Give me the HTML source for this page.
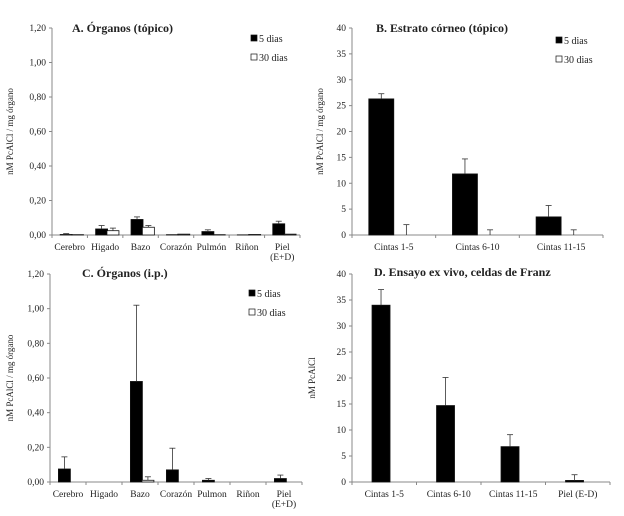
<!DOCTYPE html>
<html><head><meta charset="utf-8"><style>
body{margin:0;background:#fff;width:624px;height:511px;overflow:hidden}
svg, svg text{font-family:"Liberation Serif","DejaVu Serif",serif}
</style></head><body>
<svg id="s" width="624" height="511"></svg>
<script>
const catsOrg = ["Cerebro","Higado","Bazo","Corazón","Pulmón","Riñon","Piel|(E+D)"];
const catsOrgC = ["Cerebro","Higado","Bazo","Corazón","Pulmon","Riñon","Piel|(E+D)"];
const aFive = [0.003,0.035,0.09,0.002,0.02,0.001,0.065];
const aFiveErr = [0.005,0.02,0.015,0,0.01,0,0.015];
const aThirty = [0.002,0.025,0.045,0.005,0.002,0.003,0.005];
const aThirtyErr = [0,0.015,0.01,0,0,0,0];
const cFive = [0.075,0,0.58,0.07,0.01,0,0.02];
const cFiveErr = [0.07,0,0.44,0.125,0.01,0,0.02];
const cThirty = [0,0,0.01,0,0,0,0];
const cThirtyErr = [0,0,0.02,0,0,0,0];
const catsB = ["Cintas 1-5","Cintas 6-10","Cintas 11-15"];
const bFive = [26.3,11.8,3.5];
const bFiveErr = [1,2.9,2.2];
const bThirty = [0,0,0];
const bThirtyErr = [2,1,1];
const catsD = ["Cintas 1-5","Cintas 6-10","Cintas 11-15","Piel (E-D)"];
const dVals = [34,14.7,6.8,0.3];
const dErr = [3,5.4,2.3,1.1];
const ticksOrg = ["0,00","0,20","0,40","0,60","0,80","1,00","1,20"];
const ticksCnt = ["0","5","10","15","20","25","30","35","40"];

const svg=document.getElementById('s');
const NS="http://www.w3.org/2000/svg";
function el(tag,attrs,parent){const e=document.createElementNS(NS,tag);for(const k in attrs)e.setAttribute(k,attrs[k]);(parent||svg).appendChild(e);return e;}
function txt(x,y,s,size,anchor,weight,parent){const t=el('text',{x:x,y:y,'font-size':size,'font-family':'Liberation Serif, serif','text-anchor':anchor||'middle','font-weight':weight||'normal',fill:'#222'},parent);t.textContent=s;return t;}

function panel(o){
  const g=el('g',{});
  
  
  const y=v=>o.bot-(v/o.max)*(o.bot-o.top);
  el('line',{x1:o.x0,y1:o.top,x2:o.x0,y2:o.bot,stroke:'#888','stroke-width':1},g);
  el('line',{x1:o.x0,y1:o.bot,x2:o.x1,y2:o.bot,stroke:'#888','stroke-width':1},g);
  o.ticks.forEach((t,i)=>{const v=o.max*i/(o.ticks.length-1);const yy=y(v);
    el('line',{x1:o.x0-3,y1:yy,x2:o.x0,y2:yy,stroke:'#888'},g);
    const tl=txt(o.x0-6,yy+3,t,9.5,'end','normal',g);
    
    });
  const n=o.cats.length,w=(o.x1-o.x0)/n;
  for(let i=0;i<=n;i++){el('line',{x1:o.x0+i*w,y1:o.bot,x2:o.x0+i*w,y2:o.bot+3,stroke:'#888'},g);}
  o.cats.forEach((c,i)=>{const cx=o.x0+w*(i+0.5);
    c.split('|').forEach((p,j)=>{const l=txt(cx,o.bot+15+j*10,p,9.5,'middle','normal',g);
      
      });
    o.series.forEach((s,k)=>{
      const bx=cx+s.off*w-o.bw/2;const v=s.vals[i];
      const r=el('rect',{x:bx,y:y(v),width:o.bw,height:Math.max(0,o.bot-y(v)),fill:s.fill,stroke:'#111','stroke-width':v>0?0.8:0},g);
      
      
      const e=s.err[i];
      if(e>0){const ex=bx+o.bw/2;
        el('line',{x1:ex,y1:y(v),x2:ex,y2:y(v+e),stroke:'#333','stroke-width':0.8},g);
        el('line',{x1:ex-3,y1:y(v+e),x2:ex+3,y2:y(v+e),stroke:'#333','stroke-width':0.8},g);}
    });
  });
  const tt=txt(o.tx,o.ty,o.title,12,'start','bold',g);
  
  
  const yl=txt(0,0,o.ylab,9,'middle','normal',g);
  yl.setAttribute('transform','translate('+o.ylx+','+(o.top+o.bot)/2+') rotate(-90)');
  
  
  if(o.legend){
    [['5 dias','#000'],['30 dias','#fff']].forEach((l,k)=>{
      const lg=el('g',{},g);
      
      
      el('rect',{x:o.legend[0],y:o.legend[1]+k*19-7,width:6,height:6,fill:l[1],stroke:'#111','stroke-width':0.7},lg);
      txt(o.legend[0]+8,o.legend[1]+k*19,l[0],10,'start','normal',lg);
    });
  }
}
panel({name:'panel-a',x0:52,x1:300,top:28,bot:235,max:1.2,ticks:ticksOrg,cats:catsOrg,bw:12,
  series:[{key:'5d',vals:aFive,err:aFiveErr,fill:'#000',off:-0.1},{key:'30d',vals:aThirty,err:aThirtyErr,fill:'#fff',off:0.22}],
  title:'A. Órganos (tópico)',tx:72,ty:32,ylab:'nM PcAlCl / mg órgano',ylx:13,legend:[251,42]});
panel({name:'panel-c',x0:50,x1:302,top:274,bot:482,max:1.2,ticks:ticksOrg,cats:catsOrgC,bw:12,
  series:[{key:'5d',vals:cFive,err:cFiveErr,fill:'#000',off:-0.1},{key:'30d',vals:cThirty,err:cThirtyErr,fill:'#fff',off:0.22}],
  title:'C. Órganos (i.p.)',tx:82,ty:277,ylab:'nM PcAlCl / mg órgano',ylx:13,legend:[249,297]});
panel({name:'panel-b',x0:352,x1:603,top:28,bot:235,max:40,ticks:ticksCnt,cats:catsB,bw:25,
  series:[{key:'5d',vals:bFive,err:bFiveErr,fill:'#000',off:-0.15},{key:'30d',vals:bThirty,err:bThirtyErr,fill:'#fff',off:0.15}],
  title:'B. Estrato córneo (tópico)',tx:376,ty:32,ylab:'nM PcAlCl / mg órgano',ylx:323,legend:[556,44]});
panel({name:'panel-d',x0:352,x1:610,top:274,bot:482,max:40,ticks:ticksCnt,cats:catsD,bw:18,
  series:[{key:'5d',vals:dVals,err:dErr,fill:'#000',off:-0.05}],
  title:'D. Ensayo ex vivo, celdas de Franz',tx:374,ty:276,ylab:'nM PcAlCl',ylx:315});
</script>
</body></html>
